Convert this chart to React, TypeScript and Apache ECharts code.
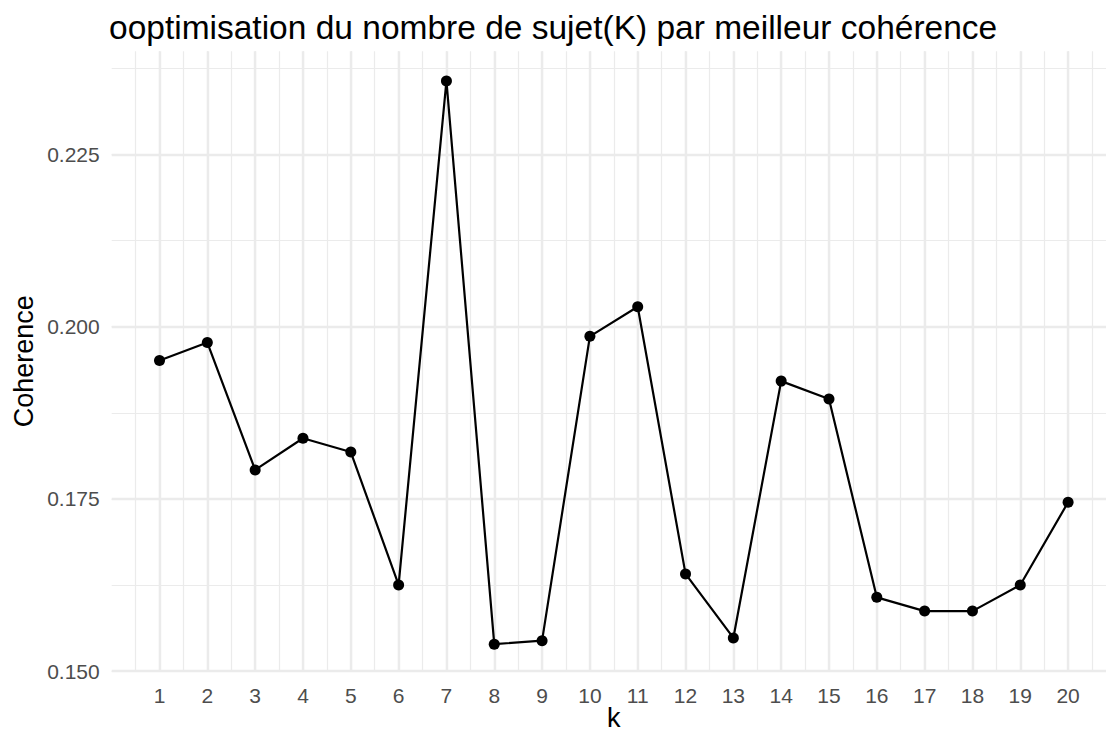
import React, { useEffect, useRef } from "react";
import * as echarts from "echarts";

const kValues = [1, 2, 3, 4, 5, 6, 7, 8, 9, 10, 11, 12, 13, 14, 15, 16, 17, 18, 19, 20];
const coherence = [
  0.1951, 0.1977, 0.1792, 0.1838, 0.1818, 0.1625, 0.2357, 0.1539, 0.1544, 0.1986,
  0.2029, 0.1641, 0.1548, 0.1921, 0.1895, 0.1607, 0.1587, 0.1587, 0.1625, 0.1745,
];
const yMajorTicks = [0.15, 0.175, 0.2, 0.225];
const titleText = "ooptimisation du nombre de sujet(K) par meilleur cohérence";
const xName = "k";
const yName = "Coherence";

const FONT = "'Liberation Sans', Arial, Helvetica, sans-serif";
const GRID = "#ebebeb";

export default function App() {
  const ref = useRef<HTMLDivElement>(null);
  useEffect(() => {
    if (!ref.current) return;
    const chart = echarts.init(ref.current, null, { renderer: "svg" });
    const isMajorY = (v: number) => yMajorTicks.some((t) => Math.abs(t - v) < 1e-6);
    chart.setOption({
      animation: false,
      backgroundColor: "#ffffff",
      textStyle: { fontFamily: FONT },
      title: {
        text: titleText,
        left: 104,
        top: 5,
        textStyle: { fontFamily: FONT, fontSize: 33.5, fontWeight: "normal", color: "#000" },
      },
      grid: {
        left: 111.7,
        right: -9.9,
        top: 51.3,
        bottom: 64,
        containLabel: false,
        outerBoundsMode: "none",
      },
      xAxis: [
        {
          type: "value",
          min: 0,
          max: 21,
          interval: 1,
          name: xName,
          nameLocation: "middle",
          nameGap: 36,
          nameMoveOverlap: false,
          nameTextStyle: { fontFamily: FONT, fontSize: 27, lineHeight: 22, color: "#000" },
          axisLine: { show: false },
          axisTick: { show: false },
          axisLabel: {
            margin: 14,
            fontSize: 21,
            fontFamily: FONT,
            color: "#4d4d4d",
            formatter: (v: number) => (kValues.includes(v) ? String(v) : ""),
          },
          splitLine: {
            show: true,
            showMinLine: false,
            showMaxLine: false,
            lineStyle: { color: GRID, width: 2.4 },
          },
        },
        {
          type: "value",
          min: 0,
          max: 21,
          interval: 0.5,
          position: "bottom",
          axisLine: { show: false },
          axisTick: { show: false },
          axisLabel: { show: false },
          splitLine: {
            show: true,
            showMinLine: false,
            showMaxLine: false,
            lineStyle: { color: GRID, width: 1.2 },
          },
        },
      ],
      yAxis: [
        {
          type: "value",
          min: 0.15,
          max: 0.24,
          interval: 0.025,
          name: yName,
          nameLocation: "middle",
          nameGap: 74,
          nameMoveOverlap: false,
          nameTextStyle: { fontFamily: FONT, fontSize: 27, color: "#000" },
          axisLine: { show: false },
          axisTick: { show: false },
          axisLabel: {
            margin: 12,
            fontSize: 21,
            fontFamily: FONT,
            color: "#4d4d4d",
            formatter: (v: number) => (isMajorY(v) ? v.toFixed(3) : ""),
          },
          splitLine: {
            show: true,
            showMaxLine: false,
            lineStyle: { color: GRID, width: 2.4 },
          },
        },
        {
          type: "value",
          min: 0.15,
          max: 0.24,
          interval: 0.0125,
          position: "left",
          axisLine: { show: false },
          axisTick: { show: false },
          axisLabel: { show: false },
          splitLine: {
            show: true,
            showMaxLine: false,
            lineStyle: { color: GRID, width: 1.2 },
          },
        },
      ],
      series: [
        {
          type: "line",
          xAxisIndex: 0,
          yAxisIndex: 0,
          data: kValues.map((k, i) => [k, coherence[i]]),
          symbol: "circle",
          symbolSize: 11,
          showSymbol: true,
          lineStyle: { color: "#000", width: 2.2 },
          itemStyle: { color: "#000" },
          z: 10,
        },
      ],
    });
    return () => chart.dispose();
  }, []);
  return (
    <div
      ref={ref}
      style={{ position: "fixed", left: 0, top: 0, width: 1106, height: 735, background: "#fff" }}
    />
  );
}
